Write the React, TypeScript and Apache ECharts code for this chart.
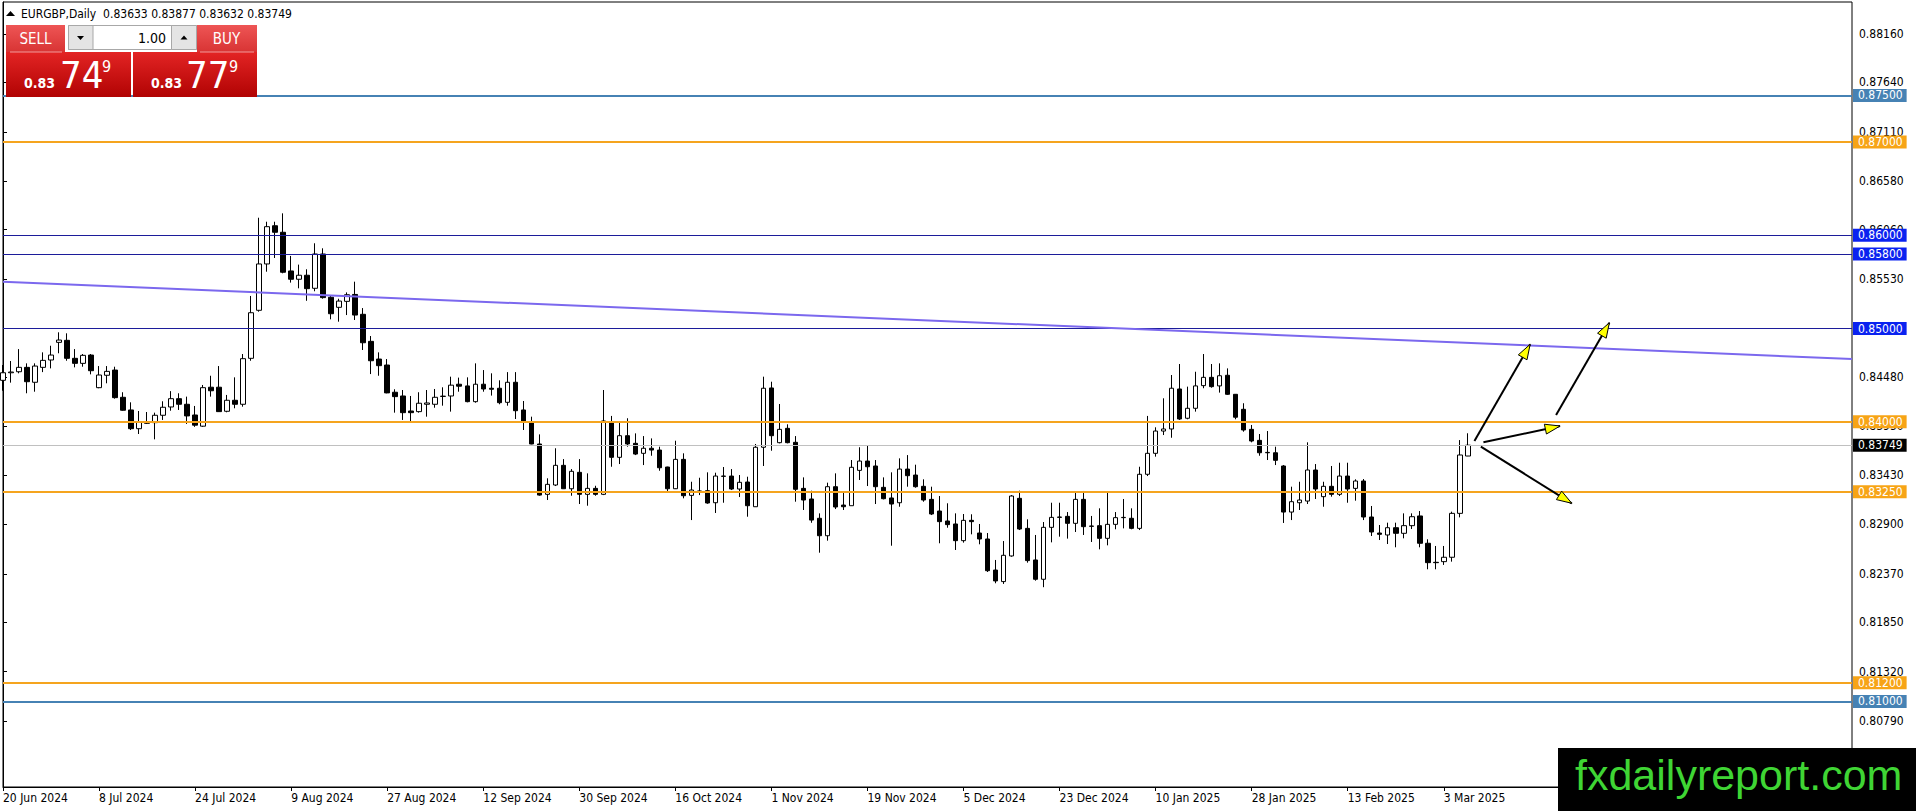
import React, { useEffect, useRef } from 'react';
import * as echarts from 'echarts';

// ---------- data ----------
const SYMBOL = 'EURGBP,Daily';
const FIRST_BAR = { y: 2024, m: 5, d: 20 };
const MARKET_HOLIDAYS = ['2024-12-25', '2025-01-01'];
const SLOT_COUNT = 232;

const TICK_LABELS = [
  '20 Jun 2024', '8 Jul 2024', '24 Jul 2024', '9 Aug 2024', '27 Aug 2024', '12 Sep 2024',
  '30 Sep 2024', '16 Oct 2024', '1 Nov 2024', '19 Nov 2024', '5 Dec 2024', '23 Dec 2024',
  '10 Jan 2025', '28 Jan 2025', '13 Feb 2025', '3 Mar 2025',
];

const Y_TICKS = [0.8816, 0.8764, 0.8711, 0.8658, 0.8606, 0.8553, 0.85, 0.8448, 0.8395, 0.8343, 0.829, 0.8237, 0.8185, 0.8132, 0.8079];

const OPEN = [
  0.84445, 0.84526, 0.84537, 0.84584, 0.84424, 0.84584, 0.84663, 0.84852, 0.84874, 0.84681,
  0.84627, 0.84716, 0.84366, 0.84499, 0.84555, 0.84263, 0.84127, 0.83926, 0.84001, 0.83991,
  0.84070, 0.84159, 0.84248, 0.84188, 0.84073, 0.83953, 0.84371, 0.84371, 0.84113, 0.84231,
  0.84188, 0.84681, 0.85196, 0.85693, 0.86103, 0.86033, 0.85618, 0.85529, 0.85572, 0.85432,
  0.85800, 0.85336, 0.85228, 0.85292, 0.85366, 0.85153, 0.84863, 0.84673, 0.84609, 0.84317,
  0.84277, 0.84116, 0.84109, 0.84188, 0.84188, 0.84272, 0.84277, 0.84403, 0.84385, 0.84216,
  0.84403, 0.84360, 0.84360, 0.84209, 0.84424, 0.84127, 0.84001, 0.83762, 0.83222, 0.83322,
  0.83533, 0.83282, 0.83458, 0.83222, 0.83286, 0.83222, 0.84001, 0.83619, 0.83851, 0.83769,
  0.83662, 0.83716, 0.83697, 0.83515, 0.83282, 0.83597, 0.83211, 0.83258, 0.83261, 0.83132,
  0.83418, 0.83418, 0.83279, 0.83354, 0.83089, 0.83727, 0.84363, 0.83776, 0.83930, 0.83780,
  0.83286, 0.83172, 0.82965, 0.82778, 0.83304, 0.83107, 0.83100, 0.83479, 0.83579, 0.83526,
  0.83297, 0.83183, 0.83132, 0.83493, 0.83429, 0.83308, 0.83168, 0.83043, 0.82936, 0.82904,
  0.82725, 0.82943, 0.82807, 0.82743, 0.82410, 0.82286, 0.82561, 0.83179, 0.82857, 0.82518,
  0.82311, 0.82868, 0.82979, 0.82986, 0.82911, 0.83168, 0.82882, 0.82886, 0.82750, 0.82900,
  0.82972, 0.82965, 0.82857, 0.83437, 0.83662, 0.83901, 0.83923, 0.84352, 0.84038, 0.84145,
  0.84388, 0.84477, 0.84385, 0.84499, 0.84295, 0.84134, 0.83919, 0.83801, 0.83672, 0.83668,
  0.83526, 0.83032, 0.83132, 0.83150, 0.83483, 0.83197, 0.83308, 0.83222, 0.83418, 0.83286,
  0.83365, 0.82979, 0.82807, 0.82786, 0.82864, 0.82804, 0.82886, 0.82990, 0.82697, 0.82493,
  0.82500, 0.82547, 0.83018, 0.83633,
];
const CLOSE = [
  0.84526, 0.84534, 0.84584, 0.84430, 0.84598, 0.84659, 0.84716, 0.84877, 0.84681, 0.84627,
  0.84713, 0.84548, 0.84502, 0.84541, 0.84259, 0.84124, 0.83926, 0.83998, 0.83984, 0.84070,
  0.84156, 0.84248, 0.84188, 0.84063, 0.83964, 0.84366, 0.84333, 0.84109, 0.84231, 0.84188,
  0.84677, 0.85170, 0.85693, 0.86093, 0.86033, 0.85604, 0.85529, 0.85572, 0.85428, 0.85800,
  0.85332, 0.85159, 0.85295, 0.85363, 0.85145, 0.84848, 0.84655, 0.84602, 0.84310, 0.84270,
  0.84098, 0.84098, 0.84199, 0.84202, 0.84263, 0.84275, 0.84393, 0.84382, 0.84216, 0.84403,
  0.84352, 0.84349, 0.84205, 0.84424, 0.84119, 0.83995, 0.83762, 0.83214, 0.83329, 0.83533,
  0.83282, 0.83469, 0.83222, 0.83286, 0.83222, 0.84009, 0.83619, 0.83851, 0.83762, 0.83654,
  0.83716, 0.83697, 0.83507, 0.83282, 0.83597, 0.83207, 0.83268, 0.83254, 0.83129, 0.83418,
  0.83415, 0.83279, 0.83351, 0.83100, 0.83727, 0.84360, 0.83851, 0.83919, 0.83776, 0.83276,
  0.83161, 0.82946, 0.82778, 0.83304, 0.83086, 0.83089, 0.83512, 0.83579, 0.83518, 0.83304,
  0.83175, 0.83118, 0.83493, 0.83422, 0.83304, 0.83161, 0.83011, 0.82929, 0.82897, 0.82725,
  0.82943, 0.82929, 0.82743, 0.82403, 0.82293, 0.82568, 0.83204, 0.82850, 0.82511, 0.82311,
  0.82868, 0.82975, 0.82975, 0.82911, 0.83168, 0.82875, 0.82879, 0.82750, 0.82900, 0.82972,
  0.82975, 0.82857, 0.83437, 0.83662, 0.83901, 0.83923, 0.84360, 0.84030, 0.84145, 0.84385,
  0.84477, 0.84377, 0.84494, 0.84295, 0.84049, 0.83912, 0.83794, 0.83668, 0.83668, 0.83587,
  0.83032, 0.83143, 0.83161, 0.83483, 0.83279, 0.83308, 0.83222, 0.83418, 0.83279, 0.83365,
  0.82979, 0.82818, 0.82793, 0.82864, 0.82804, 0.82886, 0.82982, 0.82697, 0.82489, 0.82489,
  0.82547, 0.83018, 0.83644, 0.83749,
];
const LOW = [
  0.84333, 0.84420, 0.84520, 0.84306, 0.84323, 0.84533, 0.84573, 0.84735, 0.84655, 0.84584,
  0.84591, 0.84509, 0.84360, 0.84413, 0.84248, 0.84119, 0.83912, 0.83869, 0.83977, 0.83812,
  0.84020, 0.84119, 0.84127, 0.83977, 0.83946, 0.83946, 0.84270, 0.84105, 0.84102, 0.84145,
  0.84162, 0.84655, 0.85181, 0.85610, 0.85757, 0.85593, 0.85493, 0.85432, 0.85298, 0.85400,
  0.85321, 0.85099, 0.85074, 0.85145, 0.85092, 0.84770, 0.84512, 0.84494, 0.84306, 0.84098,
  0.84020, 0.83991, 0.84098, 0.84055, 0.84151, 0.84173, 0.84109, 0.84323, 0.84209, 0.84205,
  0.84323, 0.84281, 0.84188, 0.84173, 0.84030, 0.83912, 0.83759, 0.83207, 0.83161, 0.83311,
  0.83279, 0.83207, 0.83118, 0.83100, 0.83207, 0.83214, 0.83518, 0.83547, 0.83733, 0.83643,
  0.83536, 0.83636, 0.83475, 0.83250, 0.83279, 0.83179, 0.82946, 0.83214, 0.83121, 0.83022,
  0.83132, 0.83268, 0.83193, 0.82982, 0.83089, 0.83526, 0.83690, 0.83769, 0.83769, 0.83143,
  0.83054, 0.82917, 0.82596, 0.82725, 0.83064, 0.83054, 0.83100, 0.83376, 0.83311, 0.83118,
  0.83168, 0.82671, 0.83089, 0.83304, 0.83293, 0.83143, 0.83000, 0.82697, 0.82864, 0.82625,
  0.82704, 0.82793, 0.82686, 0.82389, 0.82268, 0.82261, 0.82553, 0.82839, 0.82489, 0.82296,
  0.82226, 0.82707, 0.82768, 0.82747, 0.82818, 0.82786, 0.82711, 0.82632, 0.82675, 0.82847,
  0.82857, 0.82847, 0.82839, 0.83418, 0.83626, 0.83858, 0.83829, 0.84020, 0.84027, 0.84109,
  0.84360, 0.84366, 0.84313, 0.84288, 0.84027, 0.83894, 0.83780, 0.83636, 0.83590, 0.83536,
  0.82915, 0.82946, 0.83054, 0.83118, 0.83172, 0.83089, 0.83197, 0.83204, 0.83132, 0.83154,
  0.82946, 0.82775, 0.82732, 0.82689, 0.82654, 0.82750, 0.82850, 0.82654, 0.82418, 0.82418,
  0.82465, 0.82500, 0.82975, 0.83632,
];
const HIGH = [
  0.84609, 0.84652, 0.84780, 0.84627, 0.84627, 0.84745, 0.84816, 0.84960, 0.84949, 0.84780,
  0.84727, 0.84727, 0.84598, 0.84598, 0.84591, 0.84317, 0.84209, 0.84116, 0.84105, 0.84098,
  0.84220, 0.84329, 0.84306, 0.84270, 0.84170, 0.84395, 0.84494, 0.84598, 0.84288, 0.84477,
  0.84727, 0.85350, 0.86189, 0.86146, 0.86146, 0.86236, 0.85779, 0.85686, 0.85636, 0.85915,
  0.85861, 0.85357, 0.85320, 0.85388, 0.85503, 0.85220, 0.84920, 0.84745, 0.84673, 0.84349,
  0.84341, 0.84277, 0.84317, 0.84341, 0.84352, 0.84370, 0.84484, 0.84474, 0.84477, 0.84627,
  0.84555, 0.84520, 0.84445, 0.84533, 0.84533, 0.84223, 0.84055, 0.83865, 0.83394, 0.83716,
  0.83600, 0.83493, 0.83600, 0.83447, 0.83314, 0.84341, 0.84063, 0.84001, 0.84038, 0.83876,
  0.83847, 0.83822, 0.83733, 0.83518, 0.83797, 0.83662, 0.83357, 0.83400, 0.83458, 0.83454,
  0.83515, 0.83493, 0.83429, 0.83411, 0.83762, 0.84484, 0.84430, 0.84191, 0.83973, 0.83847,
  0.83404, 0.83261, 0.83018, 0.83347, 0.83447, 0.83240, 0.83590, 0.83727, 0.83751, 0.83590,
  0.83404, 0.83458, 0.83608, 0.83643, 0.83540, 0.83383, 0.83304, 0.83204, 0.83126, 0.83018,
  0.83011, 0.83008, 0.82904, 0.82807, 0.82518, 0.82721, 0.83214, 0.83261, 0.82954, 0.82786,
  0.82925, 0.83132, 0.83132, 0.83032, 0.83250, 0.83258, 0.82990, 0.83072, 0.83247, 0.83032,
  0.83172, 0.83072, 0.83518, 0.84063, 0.83941, 0.84252, 0.84502, 0.84620, 0.84377, 0.84537,
  0.84727, 0.84620, 0.84627, 0.84573, 0.84298, 0.84199, 0.83966, 0.83869, 0.83901, 0.83733,
  0.83536, 0.83304, 0.83357, 0.83780, 0.83547, 0.83357, 0.83526, 0.83561, 0.83561, 0.83383,
  0.83386, 0.83097, 0.82893, 0.82918, 0.82918, 0.83018, 0.83018, 0.83043, 0.82740, 0.82668,
  0.82668, 0.83036, 0.83804, 0.83877,
];

const LEVEL_VALUES = [0.875, 0.87, 0.86, 0.858, 0.85, 0.84, 0.8325, 0.812, 0.81];
const LEVEL_KINDS = ['steel', 'orange', 'blue', 'blue', 'blue', 'orange', 'orange', 'orange', 'steel'];
const BID = 0.83749;
const ASK = 0.83779;
const TREND_X = [0, 231];
const TREND_Y = [0.85502, 0.84674];
// [x0, price0, x1, price1]
const ARROWS = [
  [183.83, 0.83794, 190.79, 0.84831],
  [184.95, 0.8378, 194.53, 0.83955],
  [184.63, 0.83733, 195.99, 0.83126],
  [194.03, 0.84073, 200.69, 0.85063],
];

// ---------- styles ----------
const FONT = '"DejaVu Sans Condensed", "DejaVu Sans", sans-serif';
const LINE_COLOR: Record<string, string> = { steel: '#4682B4', orange: '#F5A41E', blue: '#1c1c9a' };
const BOX_COLOR: Record<string, string> = { steel: '#4682B4', orange: '#F7A416', blue: '#0a22f0' };
const LINE_WIDTH: Record<string, number> = { steel: 2, orange: 2, blue: 1 };

const MONTHS = ['Jan', 'Feb', 'Mar', 'Apr', 'May', 'Jun', 'Jul', 'Aug', 'Sep', 'Oct', 'Nov', 'Dec'];

function buildCategories(count: number): string[] {
  const out: string[] = [];
  const d = new Date(Date.UTC(FIRST_BAR.y, FIRST_BAR.m, FIRST_BAR.d));
  while (out.length < count) {
    const wd = d.getUTCDay();
    const iso = d.toISOString().slice(0, 10);
    if (wd !== 0 && wd !== 6 && !MARKET_HOLIDAYS.includes(iso)) {
      out.push(`${d.getUTCDate()} ${MONTHS[d.getUTCMonth()]} ${d.getUTCFullYear()}`);
    }
    d.setUTCDate(d.getUTCDate() + 1);
  }
  return out;
}

function splitPrice(p: number) {
  const s = p.toFixed(5); // 0.83749
  return { big: s.slice(0, 4), mid: s.slice(4, 6), small: s.slice(6) };
}

export default function App() {
  const ref = useRef<HTMLDivElement>(null);

  useEffect(() => {
    const el = ref.current;
    if (!el) return;
    const chart = echarts.init(el, undefined, { renderer: 'svg' });

    const bars = buildCategories(OPEN.length);
    const cats = bars.slice();
    for (let k = cats.length; k < SLOT_COUNT; k++) cats.push('_' + k);
    const candles = OPEN.map((o, i) => [o, CLOSE[i], LOW[i], HIGH[i]]);
    const showTick = (_i: number, v: string) => TICK_LABELS.includes(v);

    const levelLines: any[] = LEVEL_VALUES.map((v, k) => ({
      yAxis: v,
      lineStyle: { color: LINE_COLOR[LEVEL_KINDS[k]], width: LINE_WIDTH[LEVEL_KINDS[k]], type: 'solid' },
      label: { formatter: v.toFixed(5), backgroundColor: BOX_COLOR[LEVEL_KINDS[k]] },
    }));
    levelLines.push({
      yAxis: BID,
      lineStyle: { color: '#c0c0c0', width: 1, type: 'solid' },
      label: { formatter: BID.toFixed(5), backgroundColor: '#000000' },
    });

    const arrowSeries = ARROWS.map((a) => ({
      type: 'line',
      xAxisIndex: 1,
      yAxisIndex: 0,
      data: [[a[0], a[1]], [a[2], a[3]]],
      symbol: 'none',
      silent: true,
      z: 6,
      lineStyle: { color: '#000', width: 2 },
    }));

    chart.setOption({
      animation: false,
      backgroundColor: '#ffffff',
      textStyle: { fontFamily: FONT },
      grid: { left: 2, top: 2, width: 1850, height: 785, show: true, borderColor: '#000', borderWidth: 1 },
      xAxis: [
        {
          type: 'category',
          data: cats,
          boundaryGap: false,
          axisLine: { lineStyle: { color: '#000', width: 1 } },
          axisTick: { show: true, interval: showTick, length: 4, lineStyle: { color: '#000' } },
          axisLabel: {
            interval: showTick,
            align: 'left',
            margin: 5,
            color: '#000',
            fontSize: 12,
            fontFamily: FONT,
            hideOverlap: false,
          },
          splitLine: { show: false },
        },
        { type: 'value', min: 0, max: SLOT_COUNT - 1, show: false },
      ],
      yAxis: {
        type: 'value',
        position: 'right',
        min: 0.800828,
        max: 0.885029,
        axisLine: { show: true, lineStyle: { color: '#000', width: 1 } },
        axisTick: { show: true, customValues: Y_TICKS, length: 4, lineStyle: { color: '#000' } },
        axisLabel: {
          customValues: Y_TICKS,
          formatter: (v: number) => v.toFixed(5),
          margin: 7,
          color: '#000',
          fontSize: 12,
          fontFamily: FONT,
        },
        splitLine: { show: false },
      },
      series: [
        {
          type: 'candlestick',
          xAxisIndex: 0,
          yAxisIndex: 0,
          data: candles,
          barWidth: 5,
          clip: false,
          silent: true,
          itemStyle: { color: '#ffffff', color0: '#000000', borderColor: '#000000', borderColor0: '#000000', borderWidth: 1 },
          markLine: {
            silent: true,
            precision: 5,
            symbol: ['none', 'none'],
            animation: false,
            label: {
              show: true,
              position: 'end',
              distance: 1,
              color: '#ffffff',
              fontSize: 12,
              fontFamily: FONT,
              lineHeight: 12,
              padding: [1, 4, 0, 5],
            },
            data: levelLines,
          },
        },
        {
          type: 'line',
          xAxisIndex: 1,
          yAxisIndex: 0,
          data: [[TREND_X[0], TREND_Y[0]], [TREND_X[1], TREND_Y[1]]],
          symbol: 'none',
          silent: true,
          z: 5,
          lineStyle: { color: '#7B68EE', width: 2 },
        },
        ...arrowSeries,
      ],
    });

    // arrow heads (from the library's own coordinate conversion)
    const heads = ARROWS.map((a, k) => {
      const p0 = chart.convertToPixel({ xAxisIndex: 1, yAxisIndex: 0 } as any, [a[0], a[1]]) as number[];
      const p1 = chart.convertToPixel({ xAxisIndex: 1, yAxisIndex: 0 } as any, [a[2], a[3]]) as number[];
      const dx = p1[0] - p0[0];
      const dy = p1[1] - p0[1];
      const len = Math.hypot(dx, dy) || 1;
      const ux = dx / len;
      const uy = dy / len;
      const L = 15;
      const W = 5;
      const bx = p1[0] - ux * L;
      const by = p1[1] - uy * L;
      return {
        id: 'head' + k,
        type: 'polygon',
        z: 100,
        silent: true,
        shape: { points: [[p1[0], p1[1]], [bx - uy * W, by + ux * W], [bx + uy * W, by - ux * W]] },
        style: { fill: '#FFFF00', stroke: '#000000', lineWidth: 1 },
      };
    });

    const last = OPEN.length - 1;
    const header = `${SYMBOL}  ${OPEN[last].toFixed(5)} ${HIGH[last].toFixed(5)} ${LOW[last].toFixed(5)} ${CLOSE[last].toFixed(5)}`;
    const sell = splitPrice(BID);
    const buy = splitPrice(ASK);

    const topGrad = () =>
      new echarts.graphic.LinearGradient(0, 0, 0, 1, [
        { offset: 0, color: '#ee5555' },
        { offset: 1, color: '#d83434' },
      ]);
    const botGrad = () =>
      new echarts.graphic.LinearGradient(0, 0, 0, 1, [
        { offset: 0, color: '#e32424' },
        { offset: 1, color: '#b10303' },
      ]);
    const txt = (id: string, x: number, y: number, text: string, size: number, extra: any = {}) => ({
      id,
      type: 'text',
      x,
      y,
      z: 110,
      silent: true,
      style: {
        text,
        fill: '#ffffff',
        fontSize: size,
        fontFamily: FONT,
        align: 'left',
        verticalAlign: 'middle',
        ...extra,
      },
    });

    const panel: any[] = [
      { id: 'sellTop', type: 'rect', z: 100, shape: { x: 6, y: 25, width: 59, height: 27 }, style: { fill: topGrad() } },
      { id: 'buyTop', type: 'rect', z: 100, shape: { x: 197, y: 25, width: 60, height: 27 }, style: { fill: topGrad() } },
      { id: 'sellBot', type: 'rect', z: 100, shape: { x: 6, y: 52, width: 125, height: 45 }, style: { fill: botGrad() } },
      { id: 'buyBot', type: 'rect', z: 100, shape: { x: 133, y: 52, width: 124, height: 45 }, style: { fill: botGrad() } },
      { id: 'sellSep', type: 'line', z: 105, shape: { x1: 10, y1: 52, x2: 62, y2: 52 }, style: { stroke: '#f29a9a', lineWidth: 1 } },
      { id: 'buySep', type: 'line', z: 105, shape: { x1: 200, y1: 52, x2: 254, y2: 52 }, style: { stroke: '#f29a9a', lineWidth: 1 } },
      { id: 'spinBox', type: 'rect', z: 100, shape: { x: 68.5, y: 25.5, width: 128, height: 24 }, style: { fill: '#ffffff', stroke: '#a8a8a8', lineWidth: 1 } },
      { id: 'spinDown', type: 'rect', z: 101, shape: { x: 68.5, y: 25.5, width: 24.5, height: 24 }, style: { fill: '#e4e4e4', stroke: '#a8a8a8', lineWidth: 1 } },
      { id: 'spinUp', type: 'rect', z: 101, shape: { x: 171.5, y: 25.5, width: 25, height: 24 }, style: { fill: '#e4e4e4', stroke: '#a8a8a8', lineWidth: 1 } },
      { id: 'triDown', type: 'polygon', z: 102, shape: { points: [[77, 36], [84, 36], [80.5, 40]] }, style: { fill: '#000' } },
      { id: 'triUp', type: 'polygon', z: 102, shape: { points: [[180.5, 39.5], [187.5, 39.5], [184, 35.5]] }, style: { fill: '#000' } },
      txt('lots', 166, 37.5, '1.00', 14, { fill: '#000000', align: 'right' }),
      txt('sellLbl', 35.5, 39, 'SELL', 15, { align: 'center' }),
      txt('buyLbl', 226.5, 39, 'BUY', 15, { align: 'center' }),
      txt('sellBig', 24, 82.5, sell.big, 14, { fontWeight: 'bold' }),
      txt('sellMid', 60, 75, sell.mid, 38),
      txt('sellSmall', 102, 66, sell.small, 16),
      txt('buyBig', 151, 82.5, buy.big, 14, { fontWeight: 'bold' }),
      txt('buyMid', 186, 75, buy.mid, 38),
      txt('buySmall', 229, 66, buy.small, 16),
      { id: 'hdrTri', type: 'polygon', z: 100, shape: { points: [[6, 16], [10.5, 11], [15, 16]] }, style: { fill: '#000' } },
      txt('hdr', 21, 13.5, header, 12, { fill: '#000000' }),
      { id: 'wmBox', type: 'rect', z: 120, shape: { x: 1558, y: 748, width: 358, height: 63 }, style: { fill: '#000000' } },
      txt('wm', 1575, 775, 'fxdailyreport.com', 43, { fill: '#3fd534', fontFamily: '"Liberation Sans", Arial, sans-serif' }),
    ];
    panel[panel.length - 1].z = 121;

    chart.setOption({ graphic: [...panel, ...heads] });

    return () => {
      chart.dispose();
    };
  }, []);

  return <div ref={ref} style={{ position: 'absolute', left: 0, top: 0, width: 1916, height: 811 }} />;
}
